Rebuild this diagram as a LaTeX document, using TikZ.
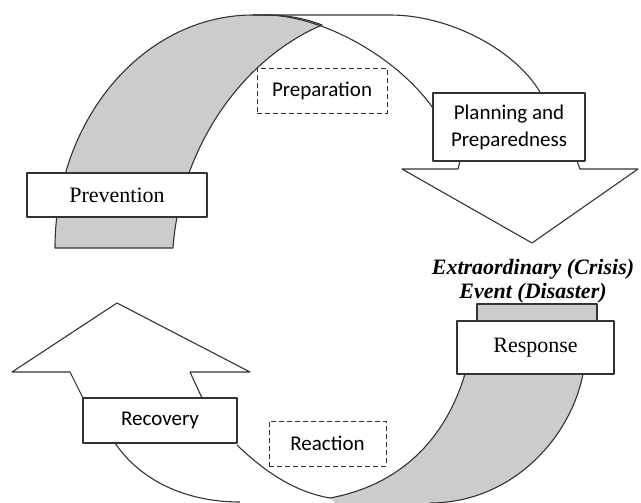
\documentclass[tikz,border=0pt]{standalone}
\usepackage{fontspec}
\setmainfont{Liberation Serif}
\newfontfamily\calibri{Carlito}
\begin{document}
\begin{tikzpicture}[x=1pt, y=-1pt,
    outline/.style={draw=black!80, line width=1.1pt, line join=round},
    band/.style={outline, fill=black!20},
    stagebox/.style={outline, fill=white, inner sep=0pt, align=center},
    phasebox/.style={draw=black!80, line width=0.9pt, dash pattern=on 5pt off 3pt, inner sep=0pt,
        font=\calibri\fontsize{21}{25}\selectfont}]
    \useasboundingbox (0,0) rectangle (641,503);

    % Upper ribbon: grey inner side, white outer side, down arrow
    \filldraw[band] (55,248) .. controls (55,119) and (144,15) .. (253,15) -- (265,15)
        .. controls (290,15) and (306,19) .. (322,25)
        .. controls (240,60) and (180,150) .. (173,248) -- cycle;
    \draw[outline] (253,15) -- (390,15) .. controls (450,15) and (515,50) .. (540,92);
    \draw[outline] (265,15) .. controls (320,15) and (395,55) .. (433,108);
    \draw[outline, fill=white] (460,161) -- (458,169) -- (402,169) -- (532,243)
        -- (638,169) -- (580,169) -- (577,161);

    % Lower ribbon: grey side from Response, white side ending in the up arrow
    \fill[black!20] (465,374) -- (583,374) .. controls (570,440) and (510,503) .. (430,503)
        -- (335,503) -- (330,498) .. controls (400,485) and (445,440) .. (465,374) -- cycle;
    \draw[outline] (583,374) .. controls (570,440) and (510,503) .. (430,503);
    \draw[outline] (330,498) .. controls (400,485) and (445,440) .. (465,374);
    \filldraw[band] (477,330) -- (477,304) -- (597,304) -- (597,330);
    \draw[outline] (115,443) .. controls (140,480) and (185,502) .. (240,502);
    \draw[outline] (237,445) .. controls (265,472) and (295,492) .. (330,498);
    \draw[outline, fill=white] (83,398) -- (70,372) -- (12,372) -- (117,303)
        -- (250,372) -- (190,372) -- (202,398);

    % Boxes
    \node[stagebox, minimum width=180, minimum height=44, font=\fontsize{22}{26}\selectfont]
        (prev) at (117,195) {Prevention};
    \node[stagebox, minimum width=152, minimum height=68, font=\calibri\fontsize{21}{27}\selectfont]
        (plan) at (509,127) {Planning and\\Preparedness};
    \node[stagebox, minimum width=157, minimum height=53, font=\fontsize{22}{26}\selectfont]
        (resp) at (535.5,347.5) {Response};
    \node[stagebox, minimum width=154, minimum height=45, font=\calibri\fontsize{21}{25}\selectfont]
        (recov) at (160,420.5) {Recovery};
    \node[phasebox, minimum width=130, minimum height=45] (prep) at (322,90.5) {Preparation};
    \node[phasebox, minimum width=117, minimum height=45] (react) at (327.5,443.5) {Reaction};
    \node[font=\bfseries\itshape\fontsize{22}{24}\selectfont, align=center, inner sep=0pt]
        (event) at (533,281) {Extraordinary (Crisis)\\Event (Disaster)};
\end{tikzpicture}
\end{document}
